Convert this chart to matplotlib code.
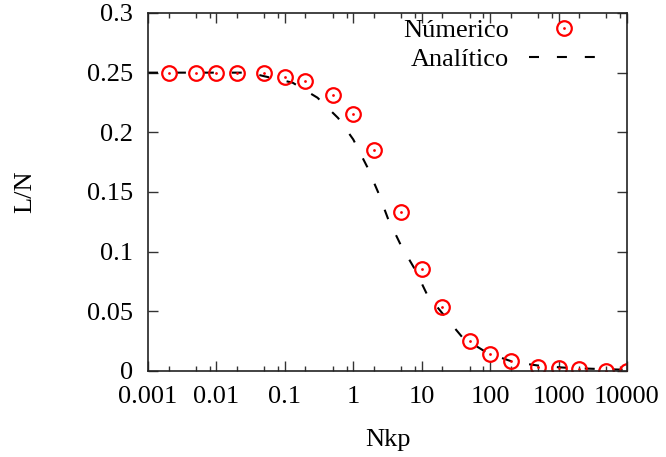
import matplotlib
matplotlib.use('Agg')
import matplotlib.pyplot as plt
from matplotlib.ticker import FixedLocator, NullFormatter

plt.rcParams['font.family'] = ['Liberation Serif', 'DejaVu Serif']

# numerical points
nkp_num = [0.002, 0.005, 0.01, 0.02, 0.05, 0.1, 0.2, 0.5, 1, 2, 5, 10, 20, 50,
           100, 200, 500, 1000, 2000, 5000, 10000]
ln_num = [0.250, 0.250, 0.250, 0.250, 0.250, 0.246, 0.243, 0.231, 0.215, 0.185,
          0.133, 0.0855, 0.054, 0.025, 0.0143, 0.0084, 0.0034, 0.0025, 0.0017,
          0.0003, 0.0003]

# analytic curve
nkp_an = [0.001, 0.01, 0.03, 0.05, 0.13, 0.3, 0.6, 1, 1.6, 2.3, 3.2, 5, 8, 12,
          22, 40, 92, 220, 590, 1480, 3800, 10000]
ln_an = [0.250, 0.250, 0.250, 0.247, 0.2416, 0.229, 0.212, 0.194, 0.171, 0.150,
         0.128, 0.105, 0.085, 0.064, 0.0455, 0.0277, 0.015, 0.0075, 0.004,
         0.0025, 0.0017, 0.001]

xticks = [0.001, 0.01, 0.1, 1, 10, 100, 1000, 10000]
xticklabels = ['0.001', '0.01', '0.1', '1', '10', '100', '1000', '10000']
yticks = [0, 0.05, 0.1, 0.15, 0.2, 0.25, 0.3]
yticklabels = ['0', '0.05', '0.1', '0.15', '0.2', '0.25', '0.3']

fs = 19

fig = plt.figure(figsize=(6.66, 4.57), dpi=100)
ax = fig.add_axes([0.2222, 0.1882, 0.7192, 0.7834])

line_an, = ax.plot(nkp_an, ln_an, color='black', lw=1.5, dashes=(4.8, 8.6))
circ, = ax.plot(nkp_num, ln_num, ls='none', marker='o', ms=10.5, mfc='none',
                mec='red', mew=1.6)
dot, = ax.plot(nkp_num, ln_num, ls='none', marker='o', ms=2, mfc='red',
               mec='red', mew=0)

ax.set_xscale('log')
ax.set_xlim(0.001, 10000)
ax.set_ylim(0, 0.3)

ax.xaxis.set_major_locator(FixedLocator(xticks))
ax.set_xticklabels(xticklabels)
minors = [m * 10.0 ** e for e in range(-3, 4) for m in (2, 5, 8)]
ax.xaxis.set_minor_locator(FixedLocator(minors))
ax.xaxis.set_minor_formatter(NullFormatter())
ax.set_yticks(yticks)
ax.set_yticklabels(yticklabels)

ax.tick_params(which='both', direction='in', top=True, right=True,
               labelsize=fs, color='#333333')
ax.tick_params(which='major', length=7, width=1, pad=11)
ax.tick_params(which='minor', length=3.5, width=1)
for s in ax.spines.values():
    s.set_linewidth(1.2)
    s.set_color('#222222')

ax.set_xlabel('Nkp', fontsize=fs, labelpad=15)
ax.set_ylabel('L/N', fontsize=fs, labelpad=36)

ax.legend([(circ, dot), line_an], ['Númerico', 'Analítico'], loc='upper right',
          frameon=False, markerfirst=False, fontsize=fs, handlelength=2.65,
          handletextpad=0.75, labelspacing=0.2, borderaxespad=0.3,
          bbox_to_anchor=(0.98, 1.035))

fig.savefig('out.png', dpi=100)
